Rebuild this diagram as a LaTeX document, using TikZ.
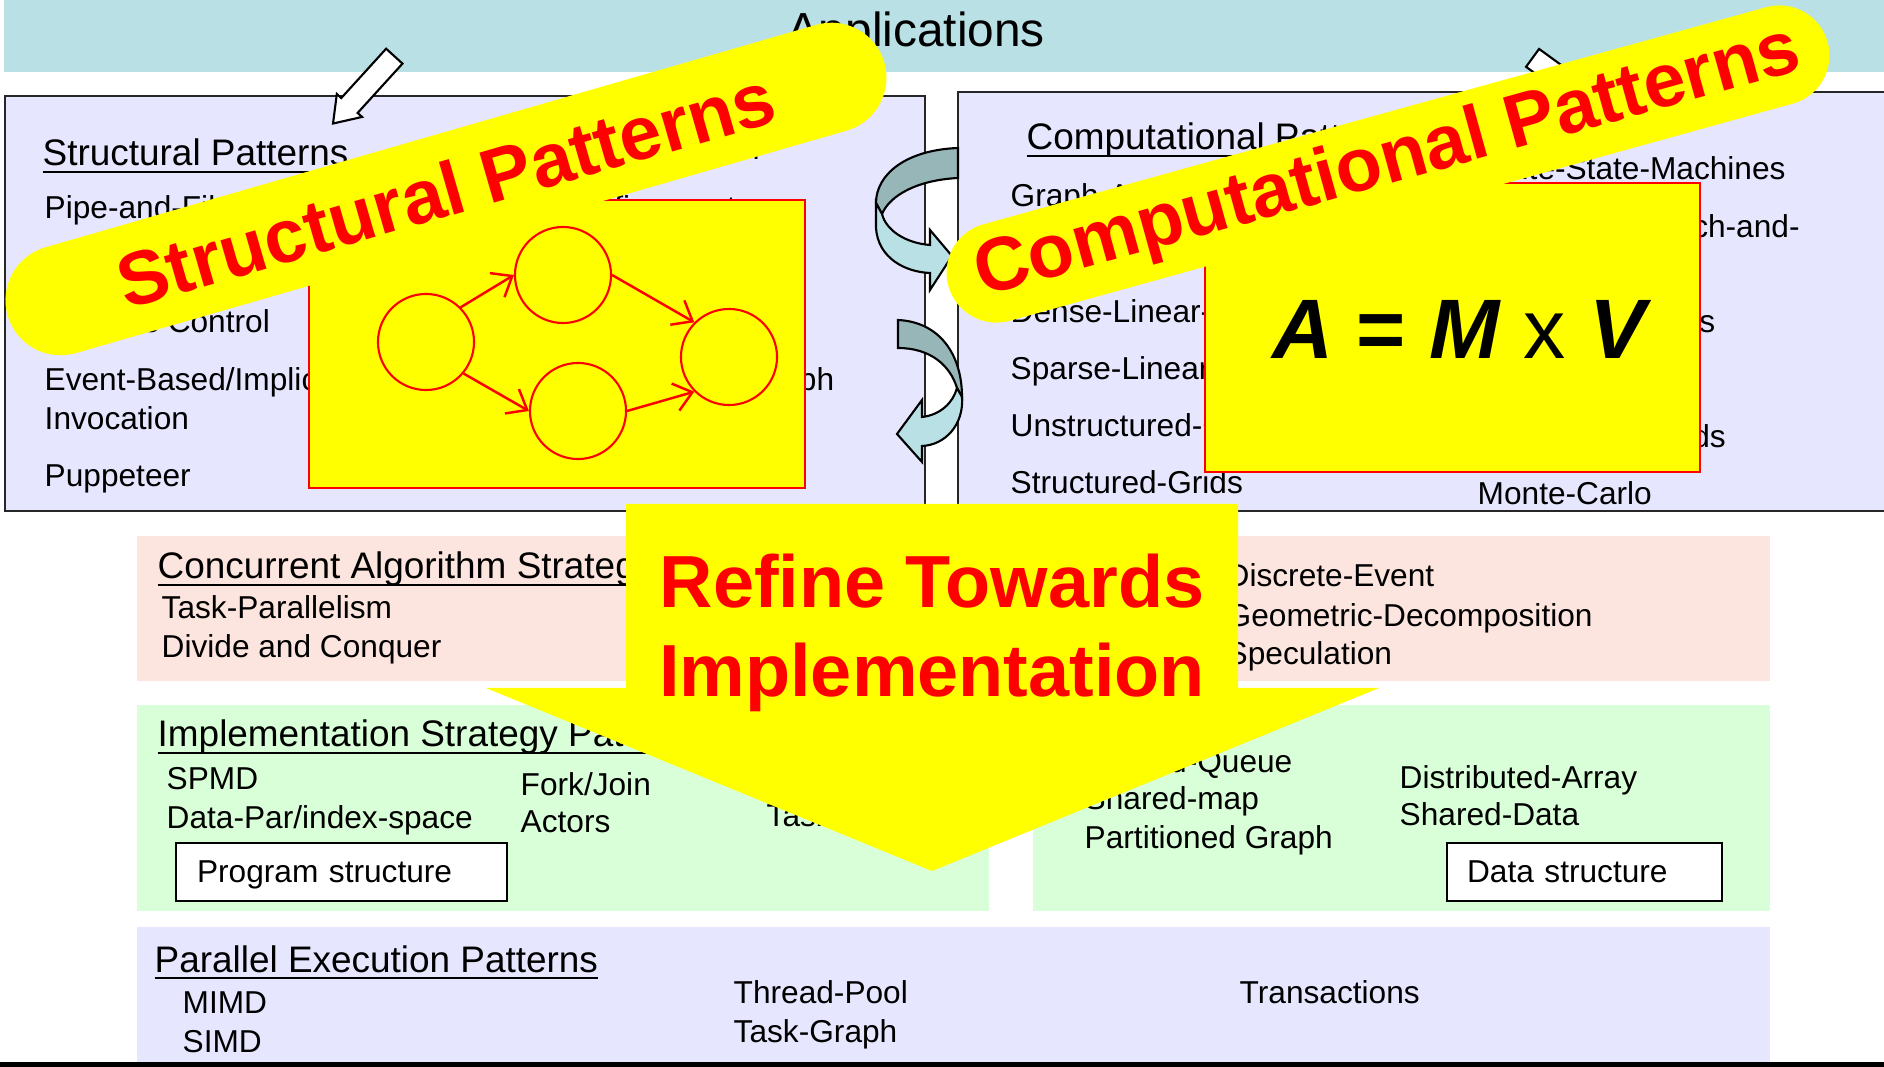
\documentclass[tikz,border=0pt]{standalone}
\usepackage{fontspec}
\setmainfont{Liberation Sans}
\usetikzlibrary{arrows.meta, shapes.arrows}
\definecolor{appteal}{RGB}{185,224,228}
\definecolor{boxlav}{RGB}{230,230,255}
\definecolor{boxpink}{RGB}{253,229,223}
\definecolor{boxgreen}{RGB}{217,255,216}
\definecolor{ribdark}{RGB}{150,182,183}
\definecolor{riblight}{RGB}{185,224,228}
\definecolor{hiyellow}{RGB}{255,255,0}
\definecolor{hired}{RGB}{255,0,0}
\newsavebox\ulbox
\newcommand{\ulined}[1]{\sbox\ulbox{#1}\rlap{\rule[-1.9pt]{\wd\ulbox}{0.55pt}}\usebox\ulbox}

\begin{document}
\begin{tikzpicture}[
    x=0.01cm, y=-0.01cm,
    item/.style={font=\fontsize{9}{11}\selectfont, inner sep=0pt, anchor=base west},
    head/.style={font=\fontsize{10.5}{12.6}\selectfont, inner sep=0pt, anchor=base west},
    topbox/.style={draw=black!85, line width=0.7pt, fill=boxlav},
    labelbox/.style={draw=black, line width=0.6pt, fill=white, anchor=west, align=left,
        minimum height=0.58cm, text height=7.7pt, text depth=2pt, font=\fontsize{9}{11}\selectfont},
    banner/.style={fill=hiyellow, text=hired, font=\fontsize{21.5}{25}\selectfont\bfseries,
        minimum width=9.12cm, inner sep=0pt},
    yellowpad/.style={draw=hired, line width=0.5pt, fill=hiyellow},
    gcirc/.style={circle, draw=hired, line width=0.6pt, minimum size=0.96cm, inner sep=0pt},
    gedge/.style={hired, line width=0.7pt, -{Straight Barb[length=5pt, width=8pt]}},
    hollow/.style={single arrow, draw=black, line width=0.6pt, fill=white, inner sep=0.1cm,
        single arrow head extend=0.06cm, single arrow tip angle=70,
        minimum height=0.91cm, minimum width=0.32cm},
    ribbon/.style={draw=black, line width=0.6pt},
    bigword/.style={text=hired, font=\fontsize{21}{25}\selectfont\bfseries, inner sep=0pt, anchor=base},
]
    \useasboundingbox (0,0) rectangle (1884,1067);

    % Applications band
    \fill[appteal] (4,0) rectangle (1884,72);
    \node[font=\fontsize{13.6}{16}\selectfont, inner sep=0pt, anchor=base] (apps) at (916,47) {Applications};

    % Pattern boxes
    \draw[topbox] (5,96) rectangle (925,511);
    \draw[topbox] (958,92) rectangle (1892,511);
    \fill[boxpink] (137,536) rectangle (1770,681);
    \fill[boxgreen] (137,705) rectangle (989,911);
    \fill[boxgreen] (1033,705) rectangle (1770,911);
    \fill[boxlav] (137,927) rectangle (1770,1067);
    \fill[black] (0,1062) rectangle (1884,1067);

    % Structural patterns
    \node[head] (sphead) at (42,166) {\ulined{Structural Patterns}};
    \node[item] (pipe) at (44,219) {Pipe-and-Filter};
    \node[item] (proc) at (44,333) {Process Control};
    \node[item] (event) at (44,391) {Event-Based/Implicit};
    \node[item] (invoc) at (44,430) {Invocation};
    \node[item] (puppet) at (44,487) {Puppeteer};
    \node[item] (mvc) at (450,160) {Model-View-Controller};
    \node[item] (iter) at (450,219) {Iterative-Refinement};
    \node[item] (atg) at (450,391) {Arbitrary-Static-Task-Graph};

    % Computational patterns
    \node[head] (cphead) at (1026,150) {\ulined{Computational Patterns}};
    \node[item] (graphalg) at (1010,207) {Graph-Algorithms};
    \node[item] (dense) at (1010,323) {Dense-Linear-Algebra};
    \node[item] (sparse) at (1010,380) {Sparse-Linear-Algebra};
    \node[item] (ugrid) at (1010,437) {Unstructured-Grids};
    \node[item] (sgrid) at (1010,494) {Structured-Grids};
    \node[item] (fsm) at (1477,180) {Finite-State-Machines};
    \node[item] (bnb) at (1477,238) {Backtrack Branch-and-};
    \node[item] (nbody) at (1477,333) {N-Body-Methods};
    \node[item] (spectral) at (1477,448) {Spectral-Methods};
    \node[item] (monte) at (1477,505) {Monte-Carlo};

    % Concurrent algorithm strategy
    \node[head] (cahead) at (157,579) {\ulined{Concurrent Algorithm Strategy Patterns}};
    \node[item] (taskpar) at (161,619) {Task-Parallelism};
    \node[item] (divide) at (161,658) {Divide and Conquer};
    \node[item] (discrete) at (1226,587) {Discrete-Event};
    \node[item] (geodec) at (1226,627) {Geometric-Decomposition};
    \node[item] (specul) at (1226,665) {Speculation};

    % Implementation strategy
    \node[head] (ishead) at (157,747) {\ulined{Implementation Strategy Patterns}};
    \node[item] (spmd) at (166,789) {SPMD};
    \node[item] (datapar) at (166,828) {Data-Par/index-space};
    \node[item] (forkjoin) at (520,795) {Fork/Join};
    \node[item] (actors) at (520,833) {Actors};
    \node[item] (taskq) at (766,827) {Task-Queue};
    \node[item] (shq) at (1084,772) {Shared-Queue};
    \node[item] (shmap) at (1084,810) {Shared-map};
    \node[item] (pgraph) at (1084,848) {Partitioned Graph};
    \node[item] (darray) at (1399,788) {Distributed-Array};
    \node[item] (shdata) at (1399,825) {Shared-Data};
    \node[labelbox, inner xsep=0.21cm, text width=2.89cm] (progbox) at (175,872) {Program structure};
    \node[labelbox, inner xsep=0.20cm, text width=2.35cm] (databox) at (1446,872) {Data structure};

    % Parallel execution
    \node[head] (pehead) at (154,972) {\ulined{Parallel Execution Patterns}};
    \node[item] (mimd) at (182,1013) {MIMD};
    \node[item] (simd) at (182,1052) {SIMD};
    \node[item] (tpool) at (733,1003) {Thread-Pool};
    \node[item] (tgraph) at (733,1042) {Task-Graph};
    \node[item] (trans) at (1239,1003) {Transactions};

    % Arrows out of the applications band
    \node[hollow, rotate=227.7] (appleft) at (369,84) {};
    \node[hollow, rotate=-36] (appright) at (1563,80) {};

    % Curved arrows between the two pattern boxes
    \draw[ribbon, fill=ribdark] (958,148) .. controls (905,150) and (876,175) .. (876,203)
        -- (882,214) .. controls (890,195) and (918,180) .. (958,178) -- cycle;
    \draw[ribbon, fill=riblight] (876,203) -- (876,228) .. controls (878,258) and (905,272) .. (930,273)
        -- (930,290) -- (952,256) -- (930,230) -- (930,245) .. controls (905,243) and (886,230) .. (882,214) -- cycle;
    \draw[ribbon, fill=ribdark] (898,320) .. controls (940,322) and (962,355) .. (962,397)
        -- (957,388) .. controls (950,365) and (930,348) .. (898,348) -- cycle;
    \draw[ribbon, fill=riblight] (962,397) .. controls (964,425) and (945,445) .. (922,446)
        -- (922,462) -- (897,434) -- (922,400) -- (922,417) .. controls (940,415) and (953,403) .. (957,388) -- cycle;

    % Task graph pad
    \draw[yellowpad] (309,200) rectangle (805,488);
    \node[gcirc] (g1) at (426,342) {};
    \node[gcirc] (g2) at (563,275) {};
    \node[gcirc] (g3) at (578,411) {};
    \node[gcirc] (g4) at (729,357) {};
    \draw[gedge] (g1.45) -- (g2.180);
    \draw[gedge] (g1.-40) -- (g3.180);
    \draw[gedge] (g2.0) -- (g4.135);
    \draw[gedge] (g3.0) -- (g4.225);

    % Matrix pad
    \draw[yellowpad] (1205,183) rectangle (1700,472);
    \node[font=\fontsize{24}{28}\selectfont\bfseries, inner sep=0pt, anchor=base] (mxv) at (1459,359)
        {{\itshape A} = {\itshape M} {\mdseries x} {\itshape V}};

    % Refine arrow
    \fill[hiyellow] (626,504) -- (1238,504) -- (1238,688) -- (1379,688) -- (932,871)
        -- (486,688) -- (626,688) -- cycle;
    \node[bigword] (refine1) at (932,608) {Refine Towards};
    \node[bigword] (refine2) at (932,697) {Implementation};

    % Banners
    \node[banner, minimum height=1.10cm, rounded corners=0.55cm, rotate=16.1] (strbanner)
        at (446,189) {Structural Patterns};
    \node[banner, minimum height=1.00cm, rounded corners=0.50cm, rotate=15.5] (compbanner)
        at (1388,164) {Computational Patterns};
\end{tikzpicture}
\end{document}
